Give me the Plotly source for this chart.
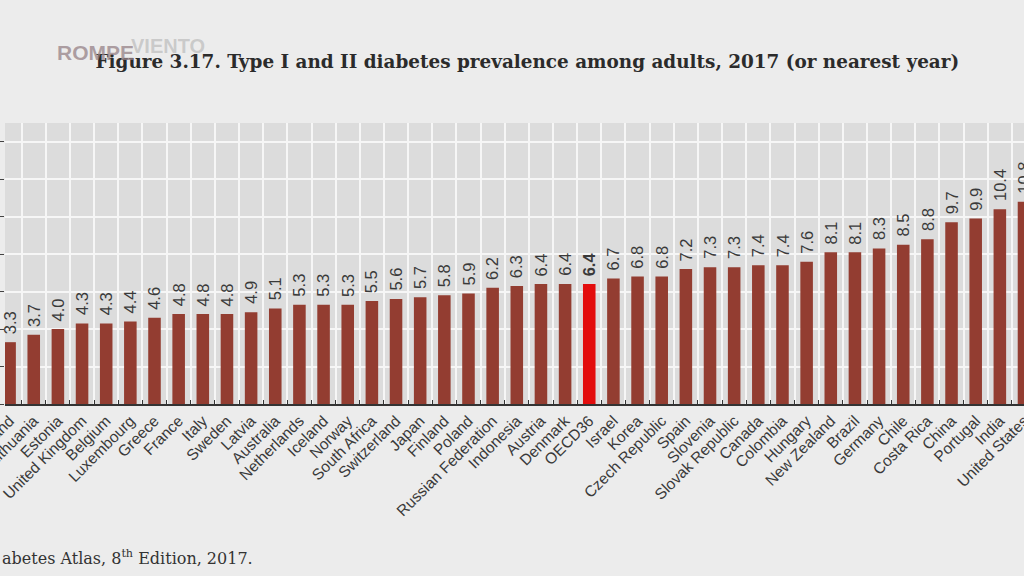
import plotly.graph_objects as go

countries = ["Ireland", "Lithuania", "Estonia", "United Kingdom", "Belgium", "Luxembourg",
             "Greece", "France", "Italy", "Sweden", "Latvia", "Australia", "Netherlands",
             "Iceland", "Norway", "South Africa", "Switzerland", "Japan", "Finland", "Poland",
             "Russian Federation", "Indonesia", "Austria", "Denmark", "OECD36", "Israel",
             "Korea", "Czech Republic", "Spain", "Slovenia", "Slovak Republic", "Canada",
             "Colombia", "Hungary", "New Zealand", "Brazil", "Germany", "Chile", "Costa Rica",
             "China", "Portugal", "India", "United States", "Turkey"]
prevalence = [3.3, 3.7, 4.0, 4.3, 4.3, 4.4, 4.6, 4.8, 4.8, 4.8, 4.9, 5.1, 5.3, 5.3, 5.3,
              5.5, 5.6, 5.7, 5.8, 5.9, 6.2, 6.3, 6.4, 6.4, 6.4, 6.7, 6.8, 6.8, 7.2, 7.3,
              7.3, 7.4, 7.4, 7.6, 8.1, 8.1, 8.3, 8.5, 8.8, 9.7, 9.9, 10.4, 10.8, 12.1]

title = "Figure 3.17. Type I and II diabetes prevalence among adults, 2017 (or nearest year)"
source = "abetes Atlas, 8<sup>th</sup> Edition, 2017."

# OECD average is highlighted in bright red
bar_colors = ["#e30d0d" if c == "OECD36" else "#933d31" for c in countries]

fig = go.Figure(go.Bar(
    x=countries, y=prevalence,
    marker=dict(color=bar_colors, line=dict(width=0)),
    width=0.52,
))

# value labels, rotated to read upwards above each bar
value_labels = [
    dict(x=c, y=v, xref="x", yref="y", text=(f"<b>{v:.1f}</b>" if c == "OECD36" else f"{v:.1f}"),
         textangle=-90, xanchor="center", yanchor="bottom", yshift=6, showarrow=False,
         font=dict(family="Liberation Sans, Arial, sans-serif", size=16.5, color="#3a3a3a"))
    for c, v in zip(countries, prevalence)
]

fig.update_layout(
    width=1024, height=576,
    paper_bgcolor="#ececec", plot_bgcolor="#dcdcdc",
    margin=dict(l=5, r=0, t=123, b=172),
    showlegend=False,
    title=dict(text="<b>" + title + "</b>", xref="container", x=0.515, xanchor="center",
               yref="container", y=1 - 62 / 576, yanchor="middle",
               font=dict(family="DejaVu Serif, serif", size=18.4, color="#2b2b2b")),
    xaxis=dict(range=[-0.19, 42.0], tickangle=-45, tickson="boundaries", automargin=False,
               ticks="inside", ticklen=4, tickcolor="#333", showline=True,
               linecolor="#333", linewidth=1.5, showgrid=True, gridcolor="#f6f6f6",
               gridwidth=1.5,
               tickfont=dict(family="Liberation Sans, Arial, sans-serif", size=15.5,
                             color="#3a3a3a")),
    yaxis=dict(range=[0, 15], dtick=2, showticklabels=False, ticks="outside", ticklen=4,
               tickcolor="#444", showgrid=True, gridcolor="#f6f6f6", gridwidth=1.5,
               zeroline=False, showline=False, automargin=False),
    annotations=value_labels + [
        dict(text=source, xref="paper", yref="paper", x=-5 / 1019, y=-(557 - 404) / 281,
             xanchor="left", yanchor="middle", showarrow=False,
             font=dict(family="DejaVu Serif, serif", size=16, color="#333")),
        dict(text="<b>ROMPE</b>", xref="paper", yref="paper", x=50 / 1019, y=(404 - 52) / 281,
             xanchor="left", yanchor="middle", showarrow=False,
             font=dict(family="Liberation Sans Narrow, Liberation Sans, sans-serif", size=21,
                       color="rgba(150,130,135,0.75)")),
        dict(text="<b>VIENTO</b>", xref="paper", yref="paper", x=124 / 1019, y=(404 - 46) / 281,
             xanchor="left", yanchor="middle", showarrow=False,
             font=dict(family="Liberation Sans Narrow, Liberation Sans, sans-serif", size=20,
                       color="rgba(160,160,160,0.45)")),
    ],
)

fig.write_html("out.html", config={"displayModeBar": False},
               post_script="document.body.style.margin='0';document.body.style.overflow='hidden';")
